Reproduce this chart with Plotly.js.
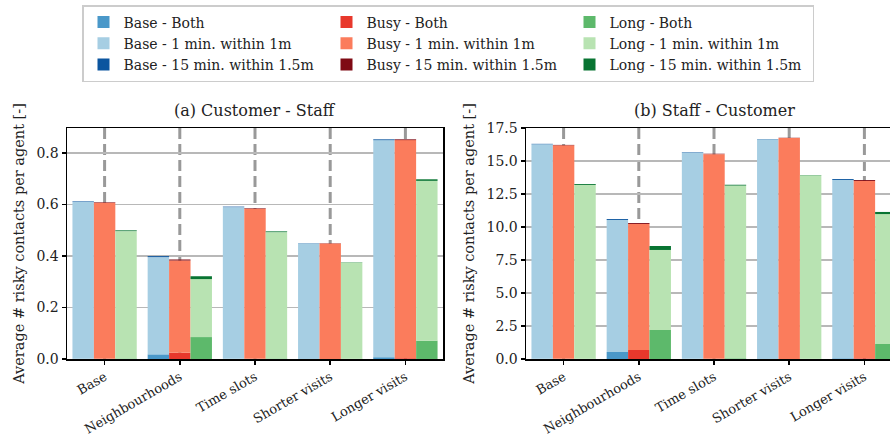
<!DOCTYPE html>
<html>
<head>
<meta charset="utf-8">
<script src="https://cdn.plot.ly/plotly-3.0.1.min.js"></script>
<style>
  html, body { margin: 0; padding: 0; overflow: hidden; background: #fff; }
  #chart { width: 920px; height: 439px; }
</style>
</head>
<body>
<div id="chart"></div>
<script>
// Scenario categories on the x axis
const categories = ['Base', 'Neighbourhoods', 'Time slots', 'Shorter visits', 'Longer visits'];

// (a) Customer - Staff: stacked segment heights per scenario
const csBaseBoth      = [0.0005, 0.018, 0.0005, 0.000, 0.007];
const csBaseOneMin    = [0.6095, 0.377, 0.5885, 0.448, 0.842];
const csBaseFifteen   = [0.002, 0.004, 0.002, 0.001, 0.003];
const csBusyBoth      = [0.0005, 0.024, 0.0005, 0.000, 0.003];
const csBusyOneMin    = [0.6055, 0.358, 0.5825, 0.448, 0.846];
const csBusyFifteen   = [0.002, 0.004, 0.002, 0.001, 0.003];
const csLongBoth      = [0.002, 0.085, 0.002, 0.001, 0.071];
const csLongOneMin    = [0.494, 0.225, 0.490, 0.373, 0.620];
const csLongFifteen   = [0.003, 0.011, 0.003, 0.001, 0.006];

// (b) Staff - Customer: stacked segment heights per scenario
const scBaseBoth      = [0.01, 0.53, 0.01, 0.00, 0.05];
const scBaseOneMin    = [16.26, 10.00, 15.64, 16.64, 13.51];
const scBaseFifteen   = [0.03, 0.07, 0.03, 0.02, 0.07];
const scBusyBoth      = [0.01, 0.68, 0.01, 0.00, 0.05];
const scBusyOneMin    = [16.18, 9.55, 15.51, 16.74, 13.44];
const scBusyFifteen   = [0.03, 0.07, 0.03, 0.02, 0.07];
const scLongBoth      = [0.02, 2.20, 0.05, 0.02, 1.14];
const scLongOneMin    = [13.16, 6.06, 13.09, 13.90, 9.84];
const scLongFifteen   = [0.07, 0.30, 0.06, 0.02, 0.16];

const groupNames = ['Base', 'Busy', 'Long'];
const metricNames = ['Both', '1 min. within 1m', '15 min. within 1.5m'];

const palette = {
  Base: ['#4a98c9', '#a6cee3', '#0b559f'],
  Busy: ['#e8382c', '#fb7c5c', '#7f0a14'],
  Long: ['#5db96b', '#b8e3b2', '#087432']
};

const panels = [
  { xa: 'x',  ya: 'y',  data: {
      Base: [csBaseBoth, csBaseOneMin, csBaseFifteen],
      Busy: [csBusyBoth, csBusyOneMin, csBusyFifteen],
      Long: [csLongBoth, csLongOneMin, csLongFifteen] } },
  { xa: 'x2', ya: 'y2', data: {
      Base: [scBaseBoth, scBaseOneMin, scBaseFifteen],
      Busy: [scBusyBoth, scBusyOneMin, scBusyFifteen],
      Long: [scLongBoth, scLongOneMin, scLongFifteen] } }
];

const barWidth = 0.285;
const offsets = { Base: -1.5 * barWidth, Busy: -0.5 * barWidth, Long: 0.5 * barWidth };

const traces = [];
panels.forEach((panel, pi) => {
  groupNames.forEach((g, gi) => {
    const segs = panel.data[g];
    let base = categories.map(() => 0);
    segs.forEach((vals, mi) => {
      traces.push({
        type: 'bar',
        x: categories,
        y: vals,
        base: base.slice(),
        width: barWidth,
        offset: offsets[g],
        xaxis: panel.xa,
        yaxis: panel.ya,
        name: g + ' - ' + metricNames[mi],
        legendrank: mi * 3 + gi + 1,
        showlegend: pi === 0,
        marker: { color: palette[g][mi], line: { width: 0 } },
        hoverinfo: 'skip'
      });
      base = base.map((b, i) => b + vals[i]);
    });
  });
});

// Dashed separators at every category position, behind the bars
const shapes = [];
['x', 'x2'].forEach((xa, k) => {
  const ya = k === 0 ? 'y domain' : 'y2 domain';
  categories.forEach(c => {
    shapes.push({
      type: 'line', layer: 'below',
      xref: xa, yref: ya,
      x0: c, x1: c, y0: 1, y1: 0,
      line: { color: '#999999', width: 3, dash: '11px,5px' }
    });
  });
});

const W = 920;
const SERIF = 'DejaVu Serif';
const font = { family: SERIF, color: '#222' };

function xAxis(dom, anchor) {
  return {
    domain: dom, anchor: anchor,
    type: 'category', range: [-0.5, 4.5],
    tickangle: -30, ticks: 'outside', ticklen: 4, tickwidth: 1.5, tickcolor: '#000',
    showline: true, linecolor: '#000', linewidth: 1.5, mirror: true,
    showgrid: false, zeroline: false,
    tickfont: { size: 13, family: SERIF }
  };
}
function yAxis(range, dtick, anchor) {
  return {
    anchor: anchor, range: range, dtick: dtick, tick0: 0, tickformat: '.1f',
    ticks: 'outside', ticklen: 4, tickwidth: 1.5, tickcolor: '#000',
    showline: true, linecolor: '#000', linewidth: 1.5, mirror: true,
    showgrid: true, gridcolor: '#b8b8b8', gridwidth: 1.5, zeroline: false,
    tickfont: { size: 14, family: SERIF },
    title: { text: 'Average # risky contacts per agent [-]',
             font: { size: 14.5, family: SERIF }, standoff: 8 }
  };
}

const layout = {
  width: W, height: 439,
  margin: { l: 0, r: 0, t: 128, b: 80 },
  paper_bgcolor: '#fff', plot_bgcolor: '#fff',
  font: font,
  barmode: 'overlay',
  xaxis: xAxis([67 / W, 443 / W], 'y'),
  yaxis: yAxis([0, 0.896], 0.2, 'x'),
  xaxis2: xAxis([526 / W, 902 / W], 'y2'),
  yaxis2: yAxis([0, 17.5], 2.5, 'x2'),
  shapes: shapes,
  annotations: [
    { text: '(a) Customer - Staff', xref: 'paper', yref: 'paper',
      x: (67 + 443) / 2 / W, y: 1, xanchor: 'center', yanchor: 'bottom', yshift: 6,
      showarrow: false, font: { size: 16, family: SERIF } },
    { text: '(b) Staff - Customer', xref: 'paper', yref: 'paper',
      x: (526 + 902) / 2 / W, y: 1, xanchor: 'center', yanchor: 'bottom', yshift: 6,
      showarrow: false, font: { size: 16, family: SERIF } }
  ],
  legend: {
    orientation: 'h', traceorder: 'normal',
    xref: 'container', yref: 'container',
    x: 448 / W, xanchor: 'center', y: 1 - 5 / 439, yanchor: 'top',
    entrywidth: 198, entrywidthmode: 'pixels',
    bgcolor: '#fff', bordercolor: '#cccccc', borderwidth: 1.5,
    font: { size: 14, family: SERIF }, itemwidth: 30
  }
};

Plotly.newPlot('chart', traces, layout, { displayModeBar: false, staticPlot: true });
</script>
</body>
</html>
